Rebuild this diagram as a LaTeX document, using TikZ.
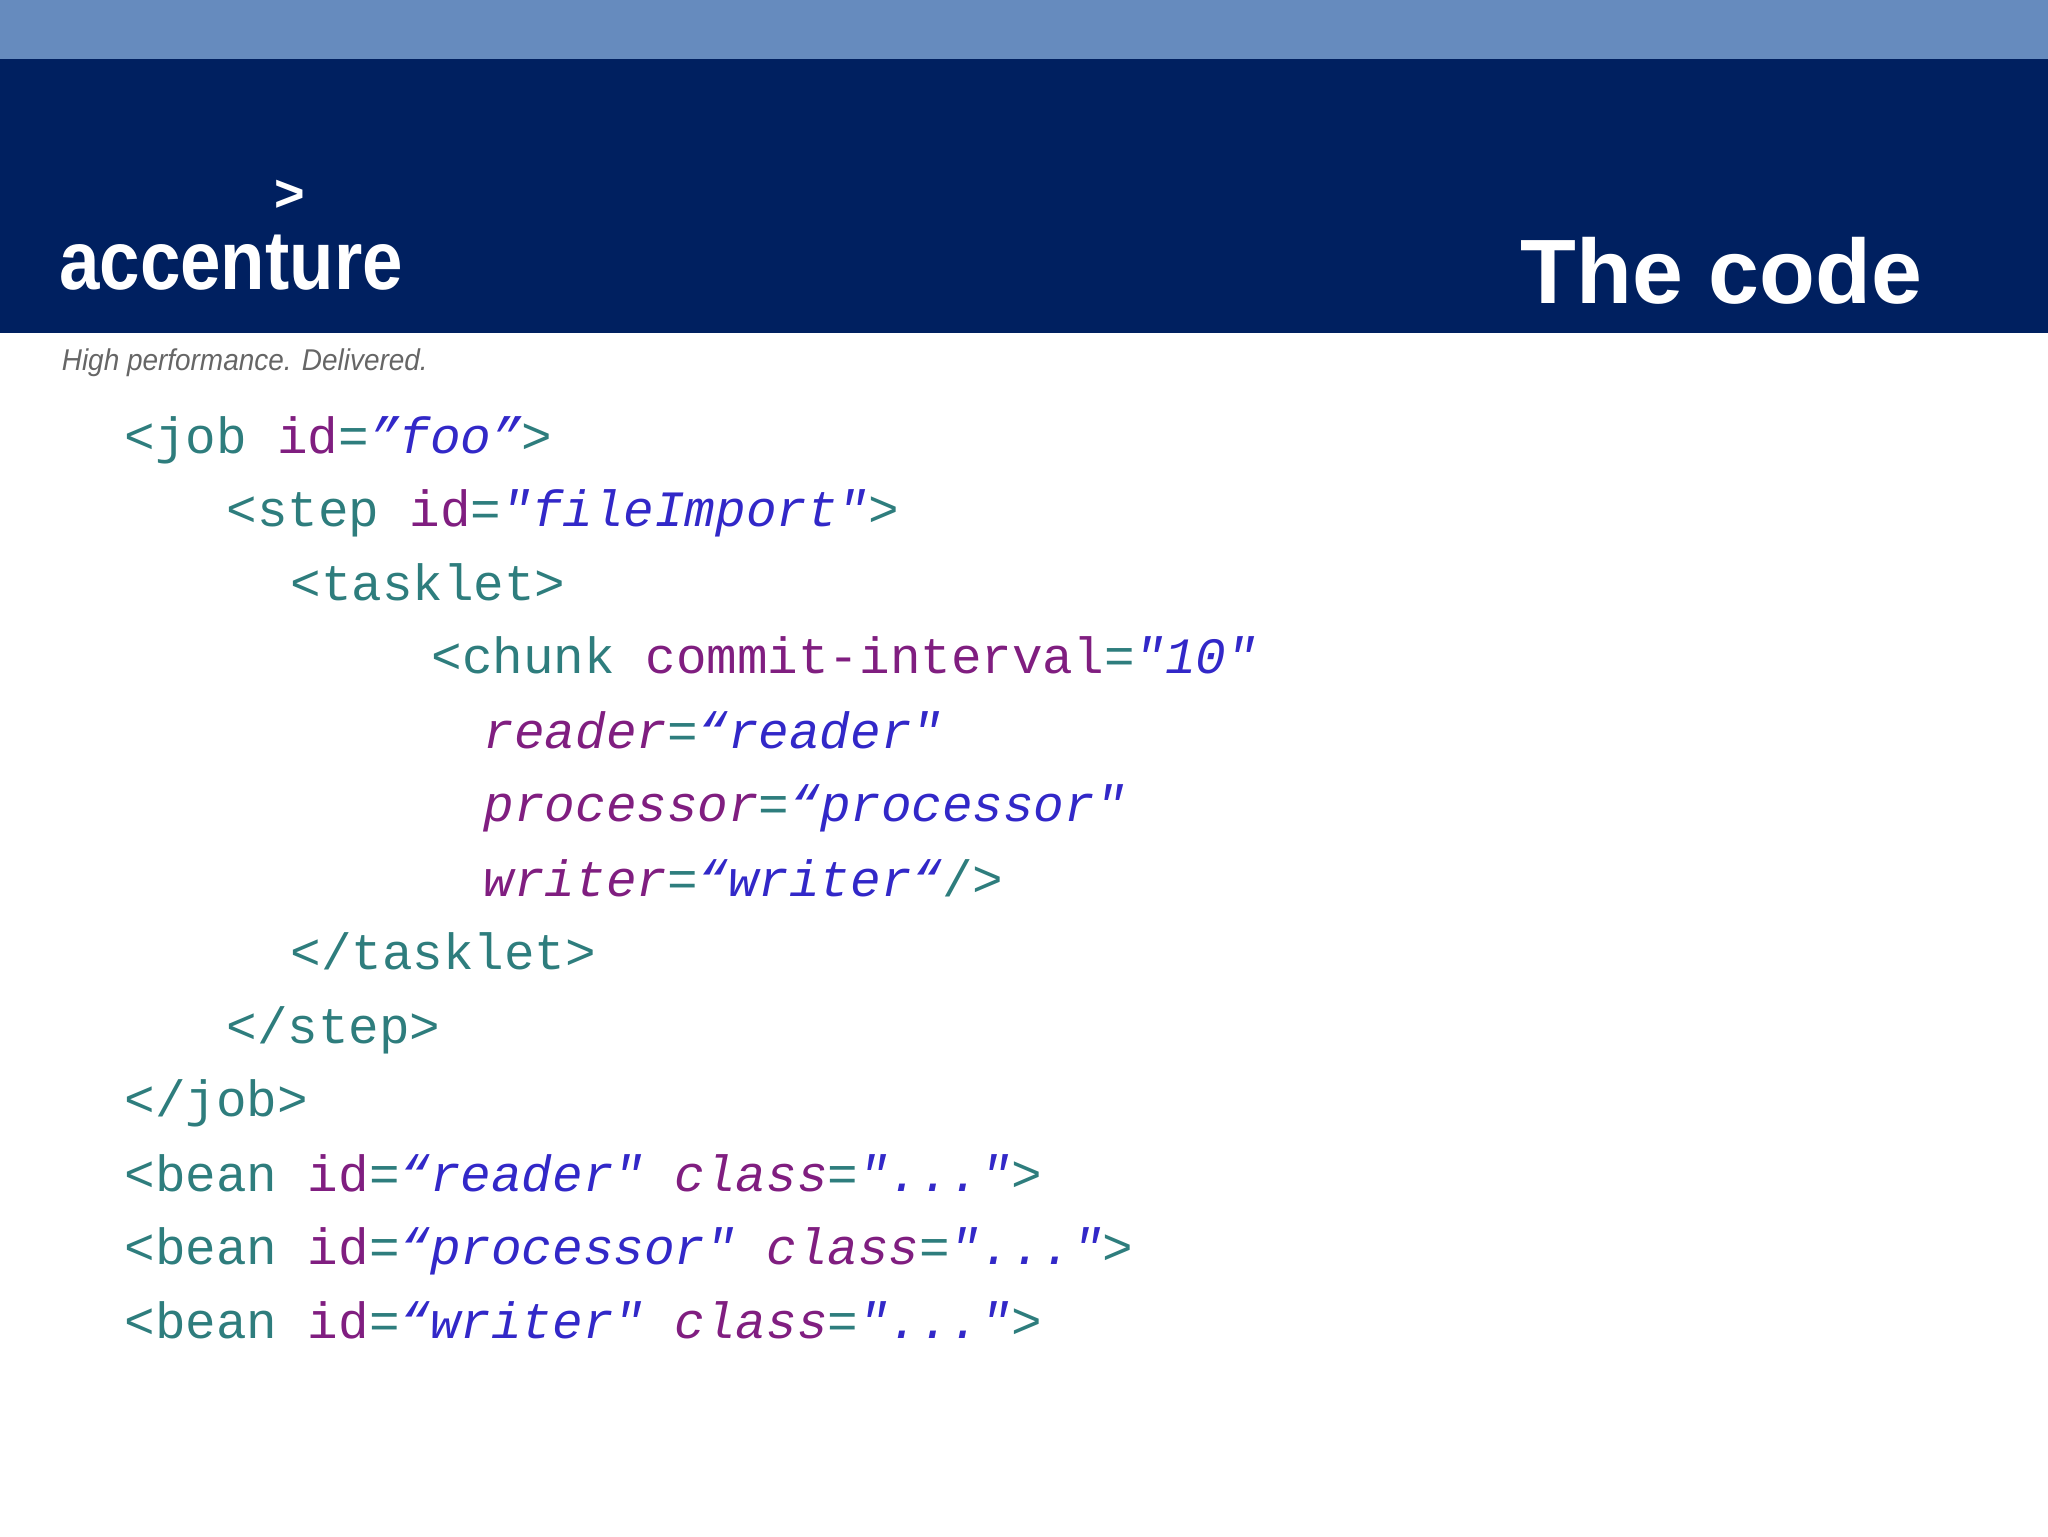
\documentclass[tikz,border=0pt]{standalone}
\usepackage{fontspec}
\setmainfont{Liberation Sans}
\newfontfamily\codefont{Liberation Mono}
\definecolor{topblue}{RGB}{102,139,190}
\definecolor{navy}{RGB}{0,32,96}
\definecolor{tagc}{RGB}{46,125,125}
\definecolor{attc}{RGB}{128,30,128}
\definecolor{valc}{RGB}{50,40,200}
\newcommand{\tg}[1]{\textcolor{tagc}{#1}}
\newcommand{\at}[1]{\textcolor{attc}{#1}}
\newcommand{\vl}[1]{\textcolor{valc}{\itshape #1}}
\tikzset{every picture/.style={line width=0.75pt}}
\tikzset{codeline/.style={anchor=base west,inner sep=0pt,font=\codefont\fontsize{39}{39}\selectfont}}

\begin{document}
\begin{tikzpicture}[x=1pt,y=1pt,yscale=-1,xscale=1]
\useasboundingbox (0,0) rectangle (1568,1176);
%Banner
\fill[topblue] (0,0) rectangle (1568,45);
\fill[navy] (0,45) rectangle (1568,255);

% Logo
\node (logo) [anchor=base west,inner sep=0pt,text=white,font=\bfseries\fontsize{64}{64}\selectfont,xscale=0.87] at (45,222) {accenture};
\node (mark) [inner sep=0pt,text=white,font=\bfseries\fontsize{40}{40}\selectfont] at (222,150) {>};
\node (tagline) [anchor=base west,inner sep=0pt,text=gray!80!black,font=\itshape\fontsize{23}{23}\selectfont,xscale=0.93] at (47,284) {High performance. Delivered.};
% Title
\node (title) [anchor=base east,inner sep=0pt,text=white,font=\bfseries\fontsize{70}{70}\selectfont] at (1472,232) {The code};

% Code lines
\node (l1) [codeline] at (95,347) {\tg{<job} \at{id}\tg{=}\vl{”foo”}\tg{>}};
\node (l2) [codeline] at (173,403) {\tg{<step} \at{id}\tg{=}\vl{"fileImport"}\tg{>}};
\node (l3) [codeline] at (222,460) {\tg{<tasklet>}};
\node (l4) [codeline] at (330,516) {\tg{<chunk} \at{commit-interval}\tg{=}\vl{"10"}};
\node (l5) [codeline] at (370,573) {\at{\itshape reader}\tg{=}\vl{“reader"}};
\node (l6) [codeline] at (370,629) {\at{\itshape processor}\tg{=}\vl{“processor"}};
\node (l7) [codeline] at (370,686) {\at{\itshape writer}\tg{=}\vl{“writer“}\tg{/>}};
\node (l8) [codeline] at (222,742) {\tg{</tasklet>}};
\node (l9) [codeline] at (173,799) {\tg{</step>}};
\node (l10) [codeline] at (95,855) {\tg{</job>}};
\node (l11) [codeline] at (95,912) {\tg{<bean} \at{id}\tg{=}\vl{“reader"} \at{\itshape class}\tg{=}\vl{"..."}\tg{>}};
\node (l12) [codeline] at (95,968) {\tg{<bean} \at{id}\tg{=}\vl{“processor"} \at{\itshape class}\tg{=}\vl{"..."}\tg{>}};
\node (l13) [codeline] at (95,1025) {\tg{<bean} \at{id}\tg{=}\vl{“writer"} \at{\itshape class}\tg{=}\vl{"..."}\tg{>}};

\end{tikzpicture}
\end{document}
